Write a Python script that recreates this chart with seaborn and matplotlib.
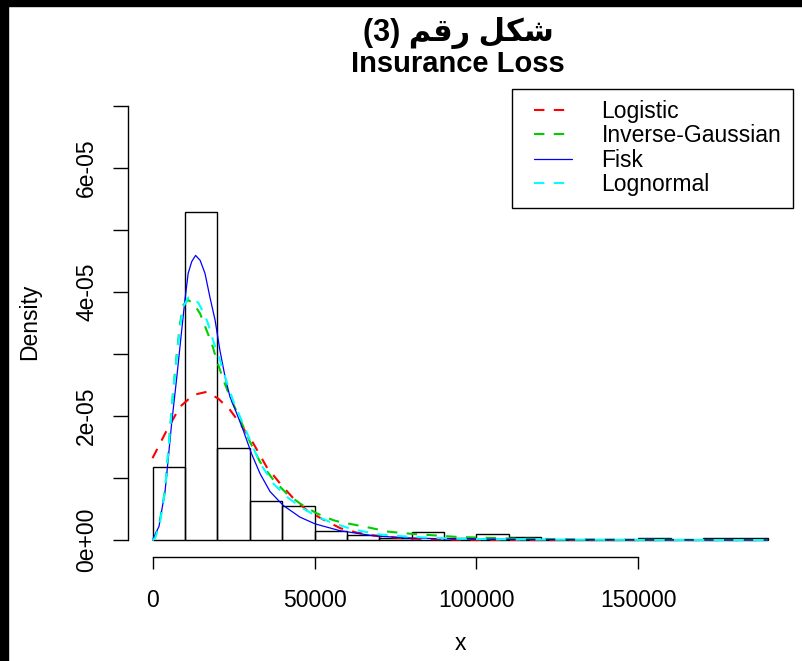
import numpy as np
import pandas as pd
import matplotlib
matplotlib.use("Agg")
import matplotlib.pyplot as plt
import seaborn as sns
from matplotlib.lines import Line2D
from matplotlib.patches import Rectangle
from matplotlib.legend_handler import HandlerLine2D

# ---------------- data ----------------
bin_edges = [0, 10000, 20000, 30000, 40000, 50000, 60000, 70000, 80000, 90000,
             100000, 110000, 120000, 130000, 140000, 150000, 160000, 170000,
             180000, 190000]
hist_density_e5 = [1.17, 5.29, 1.48, 0.63, 0.55, 0.145, 0.08, 0.04, 0.13, 0.04,
                   0.10, 0.055, 0.0, 0.0, 0.0, 0.03, 0.0, 0.03, 0.03]

logistic_x = [0, 4400, 8500, 12600, 16700, 20300, 23900, 27000, 31100, 35200,
              39400, 43500, 47600, 52700, 58000, 63000, 70000, 80000, 95000,
              120000, 150000, 190000]
logistic_y_e5 = [1.32, 1.77, 2.15, 2.34, 2.39, 2.28, 2.10, 1.88, 1.56, 1.18,
                 0.91, 0.67, 0.48, 0.33, 0.19, 0.12, 0.06, 0.02, 0.005,
                 0.0, 0.0, 0.0]

invgauss_x = [0, 800, 2300, 3900, 5400, 6400, 7500, 8500, 9500, 11000, 12600,
              14700, 16700, 18300, 19800, 21900, 23900, 26000, 28000, 30100,
              33200, 37300, 41400, 45500, 50700, 55800, 58000, 66000, 72800,
              80000, 94000, 110000, 130000, 150000, 170000, 190000]
invgauss_y_e5 = [0, 0.05, 0.32, 0.81, 1.77, 2.42, 3.01, 3.49, 3.79, 3.87, 3.82,
                 3.65, 3.38, 3.17, 2.90, 2.58, 2.31, 2.07, 1.83, 1.58,
                 1.26, 0.97, 0.75, 0.59, 0.43, 0.32, 0.29, 0.21, 0.135,
                 0.10, 0.05, 0.025, 0.012, 0.006, 0.003, 0.002]

fisk_x = [0, 2000, 3900, 5900, 7500, 9000, 10000, 11000, 12100, 13300, 14700,
          16200, 17700, 19300, 20800, 22400, 23900, 26000, 28000, 30500, 33200,
          36300, 40300, 45500, 50200, 57900, 68000, 78000, 90000, 110000,
          130000, 150000, 170000, 190000]
fisk_y_e5 = [0, 0.22, 0.8, 1.88, 2.63, 3.38, 3.87, 4.30, 4.49, 4.59, 4.51,
             4.30, 3.92, 3.55, 3.06, 2.63, 2.31, 2.04, 1.77, 1.40, 1.07,
             0.78, 0.56, 0.37, 0.26, 0.15, 0.07, 0.035, 0.02, 0.01,
             0.005, 0.003, 0.002, 0.001]

lognorm_x = [0, 800, 2300, 3900, 5400, 6400, 7500, 8500, 9500, 11000, 12600,
             14200, 16200, 17200, 18800, 20800, 22900, 25000, 27000, 30100,
             33200, 37300, 41400, 45500, 50700, 55800, 62000, 70000, 80000,
             95000, 110000, 130000, 150000, 170000, 190000]
lognorm_y_e5 = [0, 0.03, 0.28, 0.81, 1.77, 2.42, 2.98, 3.44, 3.76, 3.91, 3.91,
                3.82, 3.62, 3.48, 3.20, 2.90, 2.55, 2.23, 1.99, 1.61,
                1.24, 0.91, 0.70, 0.54, 0.38, 0.27, 0.17, 0.09, 0.05,
                0.02, 0.01, 0.005, 0.002, 0.001, 0.0]

series_names = ["Logistic", "Inverse-Gaussian", "Fisk", "Lognormal"]
series_colors = ["#FF0000", "#00CD00", "#0000FF", "#00FFFF"]

x_ticks = [0, 50000, 100000, 150000]
x_tick_labels = ["0", "50000", "100000", "150000"]
y_ticks_e5 = [0, 1, 2, 3, 4, 5, 6, 7]
y_tick_labels = ["0e+00", "", "2e-05", "", "4e-05", "", "6e-05", ""]

# Arabic title "شكل رقم (3)" written with Arabic presentation forms in visual order
title_ar = "(3) " + "\uFEE2\uFED7\uFEAD" + " " + "\uFEDE\uFEDC\uFEB7"
title_en = "Insurance Loss"

# ---------------- drawing ----------------
sns.set_theme(style="white")
plt.rcParams["font.family"] = ["Liberation Sans", "DejaVu Sans"]
plt.rcParams["text.color"] = "black"
plt.rcParams["axes.labelcolor"] = "black"
plt.rcParams["xtick.color"] = "black"
plt.rcParams["ytick.color"] = "black"

W, H = 803, 661
fig = plt.figure(figsize=(W / 100, H / 100), dpi=100)
fig.patch.set_facecolor("white")

L, R_, T, B = 127.9, 792.7, 88.6, 557.4
ax = fig.add_axes([L / W, 1 - B / H, (R_ - L) / W, (B - T) / H])
ax.set_facecolor("white")

mids = [(bin_edges[i] + bin_edges[i + 1]) / 2 for i in range(len(bin_edges) - 1)]
hist_df = pd.DataFrame({"x": mids, "w": np.array(hist_density_e5) * 1e-5})
sns.histplot(data=hist_df, x="x", weights="w", bins=bin_edges, stat="count",
             fill=False, color="black", linewidth=1.0, ax=ax)

curves = [
    (logistic_x, logistic_y_e5),
    (invgauss_x, invgauss_y_e5),
    (fisk_x, fisk_y_e5),
    (lognorm_x, lognorm_y_e5),
]
dash = (0, (5, 4.5))
styles = [dict(lw=1.5, ls=dash), dict(lw=1.5, ls=dash),
          dict(lw=0.9, ls="-"), dict(lw=1.5, ls=dash)]
for (xs, ys), col, st in zip(curves, series_colors, styles):
    df = pd.DataFrame({"x": xs, "y": np.array(ys) * 1e-5})
    sns.lineplot(data=df, x="x", y="y", color=col, linewidth=st["lw"],
                 linestyle=st["ls"], ax=ax, legend=False)

ax.set_xlim(-7600, 197600)
ax.set_ylim(-2.8e-6, 7.28e-5)
ax.set_xlabel("")
ax.set_ylabel("")

ax.set_xticks(x_ticks)
ax.set_xticklabels(x_tick_labels)
ax.set_yticks([v * 1e-5 for v in y_ticks_e5])
ax.set_yticklabels(y_tick_labels, rotation=90, va="center")

for s in ["top", "right"]:
    ax.spines[s].set_visible(False)
for s in ["left", "bottom"]:
    ax.spines[s].set_color("black")
    ax.spines[s].set_linewidth(1.0)
ax.spines["left"].set_bounds(0, 7e-5)
ax.spines["bottom"].set_bounds(0, 150000)

ax.tick_params(axis="x", direction="out", length=8.6, width=1.0, color="black",
               labelsize=16.5, labelcolor="black", pad=14, bottom=True)
ax.tick_params(axis="y", direction="out", length=10.5, width=1.0, color="black",
               labelsize=16.5, labelcolor="black", pad=11, left=True)

# legend
handles = [Line2D([], [], color=c, lw=st["lw"], ls=st["ls"])
           for c, st in zip(series_colors, styles)]
leg = ax.legend(handles, series_names, loc="upper right",
                bbox_to_anchor=(1, 1), bbox_transform=ax.transAxes,
                borderaxespad=0, frameon=True, fancybox=False,
                edgecolor="black", framealpha=1, fontsize=16.5,
                handlelength=2.1, handletextpad=1.3, borderpad=0.5,
                labelspacing=0.06,
                handler_map={Line2D: HandlerLine2D(xpad=0.45)})
leg.get_frame().set_linewidth(1.0)
for t in leg.get_texts():
    t.set_color("black")

# titles and axis labels
fig.text(458 / W, 1 - 41 / H, title_ar, ha="center", va="baseline",
         fontsize=22, fontweight="bold", color="black",
         family=["Liberation Sans", "DejaVu Sans"])
fig.text(458 / W, 1 - 72 / H, title_en, ha="center", va="baseline",
         fontsize=21, fontweight="bold", color="black")
fig.text(460 / W, 1 - 643 / H, "x", ha="center", va="center", fontsize=16.5,
         color="black")
fig.text(30 / W, 1 - 322 / H, "Density", ha="center", va="center",
         rotation=90, fontsize=16.5, color="black")

# outer black frame pieces seen on the left and top edges
fig.add_artist(Rectangle((0, 0), 8 / W, 1, transform=fig.transFigure,
                         color="black", zorder=10))
fig.add_artist(Rectangle((0, 1 - 6 / H), 1, 6 / H, transform=fig.transFigure,
                         color="black", zorder=10))

fig.savefig("out.png", dpi=100)
